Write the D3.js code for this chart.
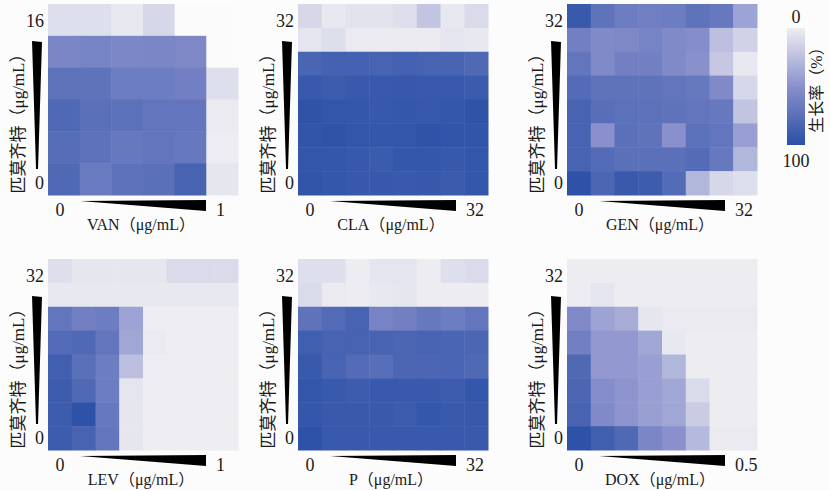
<!DOCTYPE html>
<meta charset="utf-8">
<html>
<style>
  body { margin: 0; background: #fcfcfc; }
  text { font-family: "Liberation Serif", serif; fill: #1a1a1a; }
  .cjk { font-family: "Noto Sans CJK SC", sans-serif; }
  .lat { font-family: "Liberation Serif", serif; }
</style>
<script src="https://d3js.org/d3.v7.min.js"></script>
<body>
<svg id="chart" width="830" height="490"></svg>
<script>

// drugs combined with pimozide, x axis max labels, y axis max labels
var drugs = ["VAN", "CLA", "GEN", "LEV", "P", "DOX"];
var xMaxLabels = ["1", "32", "32", "1", "32", "0.5"];
var yMaxLabels = ["16", "32", "32", "32", "32", "32"];

// growth rate (%), rows from top (max pimozide) to bottom (0)
var vanGrowth = [
  [8, 8, 3, 12, -8, -8],
  [58, 60, 57, 58, 56, -8],
  [72, 72, 65, 65, 62, 8],
  [80, 75, 74, 70, 70, 2],
  [77, 73, 68, 70, 68, 0],
  [80, 67, 73, 75, 85, 4]
];
var claGrowth = [
  [12, 3, 6, 6, 8, 22, 3, 10],
  [5, 8, 2, 2, 2, 2, 5, 3],
  [83, 86, 86, 85, 86, 85, 84, 80],
  [92, 90, 92, 92, 93, 92, 92, 91],
  [97, 95, 94, 93, 94, 93, 94, 97],
  [96, 97, 95, 94, 95, 97, 96, 96],
  [95, 94, 93, 91, 94, 94, 93, 95],
  [96, 94, 93, 93, 92, 93, 91, 94]
];
var genGrowth = [
  [92, 72, 65, 63, 65, 72, 68, 40],
  [62, 55, 56, 60, 55, 52, 25, 15],
  [70, 55, 62, 62, 55, 50, 20, 3],
  [78, 72, 72, 72, 70, 68, 55, 12],
  [85, 76, 74, 74, 72, 70, 68, 22],
  [85, 50, 75, 72, 50, 74, 70, 42],
  [85, 78, 75, 75, 75, 78, 68, 30],
  [98, 82, 92, 90, 78, 30, 12, 8]
];
var levGrowth = [
  [8, 4, 4, 4, 4, 10, 10, 10],
  [3, 3, 3, 3, 3, 3, 3, 3],
  [70, 62, 65, 40, 0, 0, 0, 0],
  [78, 80, 70, 38, 2, 0, 0, 0],
  [88, 75, 65, 25, 0, 0, 0, 0],
  [90, 80, 65, 5, 0, 0, 0, 0],
  [90, 98, 68, 4, 0, 0, 0, 0],
  [90, 85, 70, 4, 0, 0, 0, 0]
];
var pGrowth = [
  [8, 8, 1, 5, 5, 1, 8, 10],
  [10, 2, 1, 3, 4, 1, 1, 1],
  [72, 78, 85, 60, 62, 68, 65, 70],
  [88, 85, 85, 85, 82, 85, 83, 82],
  [92, 85, 78, 76, 82, 82, 83, 80],
  [95, 92, 90, 92, 92, 92, 90, 94],
  [94, 92, 92, 92, 90, 94, 92, 93],
  [98, 92, 92, 92, 92, 92, 92, 92]
];
var doxGrowth = [
  [1, 1, 1, 1, 1, 1, 1, 1],
  [1, 5, 1, 1, 1, 1, 1, 1],
  [55, 40, 35, 4, 2, 2, 2, 2],
  [62, 45, 45, 38, 3, 1, 1, 1],
  [80, 45, 45, 42, 30, 1, 1, 1],
  [82, 52, 48, 42, 38, 10, 1, 1],
  [85, 55, 48, 42, 38, 18, 1, 1],
  [98, 88, 80, 58, 50, 28, 2, 2]
];
var growthData = [vanGrowth, claGrowth, genGrowth, levGrowth, pGrowth, doxGrowth];

var svg = d3.select("#chart");
svg.append("rect").attr("width", 830).attr("height", 490).attr("fill", "#fcfcfc");

var color = d3.scaleLinear()
  .domain([-8, 0, 50, 100])
  .range(["#fbfbfc", "#eeeef2", "#8990cc", "#2a4fa6"])
  .clamp(true);

// writes "name（μg/mL）" with CJK parens and serif latin
function unitLabel(sel, name) {
  sel.append("tspan").attr("class", "cjk").text(name.cjk || "");
  if (name.lat) sel.append("tspan").attr("class", "lat").text(name.lat);
  sel.append("tspan").attr("class", "cjk").text("（");
  sel.append("tspan").attr("class", "lat").text("μg/mL");
  sel.append("tspan").attr("class", "cjk").text("）");
}

var cellW = 190, cellH = 191;
var colX = [48, 298, 567];
var rowY = [4, 259];

drugs.forEach(function (drug, i) {
  var m = growthData[i];
  var x0 = colX[i % 3], y0 = rowY[Math.floor(i / 3)];
  var g = svg.append("g").attr("transform", "translate(" + x0 + "," + y0 + ")");

  var x = d3.scaleBand().domain(d3.range(m[0].length)).range([0, cellW]);
  var y = d3.scaleBand().domain(d3.range(m.length)).range([0, cellH]);

  var cells = [];
  m.forEach(function (row, r) { row.forEach(function (v, c) { cells.push({ r: r, c: c, v: v }); }); });

  g.selectAll("rect.cell").data(cells).enter().append("rect")
    .attr("class", "cell")
    .attr("x", function (d) { return x(d.c); })
    .attr("y", function (d) { return y(d.r); })
    .attr("width", x.bandwidth() + 0.5)
    .attr("height", y.bandwidth() + 0.5)
    .attr("fill", function (d) { return color(d.v); });

  // y axis: wedge + end labels
  g.append("path")
    .attr("d", "M-16,37 L-6,38 L-10," + (cellH - 26) + " L-12," + (cellH - 26) + " Z")
    .attr("fill", "#000");
  g.append("text").attr("x", -4).attr("y", 23).attr("text-anchor", "end")
    .attr("font-size", 18).text(yMaxLabels[i]);
  g.append("text").attr("x", -4).attr("y", cellH - 6).attr("text-anchor", "end")
    .attr("font-size", 18).text("0");
  g.append("text")
    .attr("transform", "translate(-24," + (cellH / 2 + 20) + ") rotate(-90)")
    .attr("text-anchor", "middle").attr("font-size", 17)
    .call(unitLabel, { cjk: "匹莫齐特" });

  // x axis: wedge + end labels
  var xl = 32, xr = cellW - 32;
  g.append("path")
    .attr("d", "M" + xl + "," + (cellH + 6) + " L" + xr + "," + (cellH + 5) +
      " L" + xr + "," + (cellH + 16) + " Z")
    .attr("fill", "#000");
  g.append("text").attr("x", 12).attr("y", cellH + 21).attr("text-anchor", "middle")
    .attr("font-size", 18).text("0");
  g.append("text").attr("x", cellW - 22).attr("y", cellH + 21)
    .attr("font-size", 18).text(xMaxLabels[i]);
  g.append("text").attr("x", cellW / 2 - 2).attr("y", cellH + 35).attr("text-anchor", "middle")
    .attr("font-size", 16)
    .call(unitLabel, { lat: drug });
});

// colour bar
var defs = svg.append("defs");
var grad = defs.append("linearGradient").attr("id", "cbar")
  .attr("x1", 0).attr("y1", 0).attr("x2", 0).attr("y2", 1);
d3.range(0, 101, 10).forEach(function (v) {
  grad.append("stop").attr("offset", v + "%").attr("stop-color", color(v));
});
var cb = d3.scaleLinear().domain([0, 100]).range([28, 145]);
svg.append("rect").attr("x", 787).attr("y", cb(0)).attr("width", 18)
  .attr("height", cb(100) - cb(0)).attr("fill", "url(#cbar)");
svg.append("text").attr("x", 796).attr("y", cb(0) - 5).attr("text-anchor", "middle")
  .attr("font-size", 18).text("0");
svg.append("text").attr("x", 796).attr("y", cb(100) + 22).attr("text-anchor", "middle")
  .attr("font-size", 18).text("100");
var lg = svg.append("text")
  .attr("transform", "translate(822,86) rotate(-90)")
  .attr("text-anchor", "middle").attr("font-size", 16);
lg.append("tspan").attr("class", "cjk").text("生长率（");
lg.append("tspan").attr("class", "lat").text("%");
lg.append("tspan").attr("class", "cjk").text("）");

</script>
</body>
</html>
